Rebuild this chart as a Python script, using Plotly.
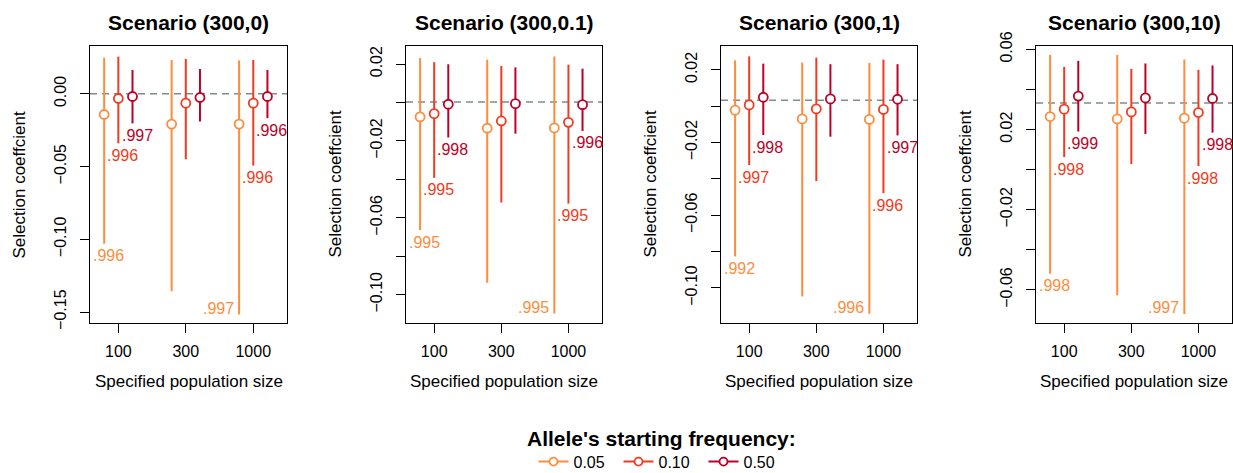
import plotly.graph_objects as go

W, H = 1233, 473
FONT = "Liberation Sans, Arial, sans-serif"

# ---------------- data ----------------
sizes = ["100", "300", "1000"]
freqs = ["0.05", "0.10", "0.50"]
colors = ["#FD8D3C", "#F03B20", "#BD0026"]
titles = ["Scenario (300,0)", "Scenario (300,0.1)", "Scenario (300,1)", "Scenario (300,10)"]
true_s = [0.0, 0.00033, 0.0033, 0.0333]

# estimates [freq][size]
est_p1 = [[-0.0142, -0.0208, -0.0208], [-0.0032, -0.0064, -0.0064], [-0.0018, -0.0025, -0.0018]]
lo_p1 = [[-0.1030, -0.1356, -0.1516], [-0.0340, -0.0450, -0.0493], [-0.0203, -0.0190, -0.0167]]
hi_p1 = [[0.0249, 0.0233, 0.0230], [0.0256, 0.0240, 0.0233], [0.0164, 0.0171, 0.0164]]
cov_p1 = [[".996", None, ".997"], [".996", None, ".996"], [".997", None, ".996"]]

est_p2 = [[-0.0075, -0.0134, -0.0132], [-0.0058, -0.0096, -0.0103], [-0.0009, -0.0006, -0.0011]]
lo_p2 = [[-0.0664, -0.0938, -0.1097], [-0.0392, -0.0520, -0.0526], [-0.0182, -0.0162, -0.0148]]
hi_p2 = [[0.0231, 0.0223, 0.0240], [0.0210, 0.0190, 0.0197], [0.0199, 0.0183, 0.0176]]
cov_p2 = [[".995", None, ".995"], [".995", None, ".995"], [".998", None, ".996"]]

est_p3 = [[-0.0022, -0.0070, -0.0073], [0.0007, -0.0015, -0.0018], [0.0049, 0.0040, 0.0038]]
lo_p3 = [[-0.0827, -0.1047, -0.1142], [-0.0324, -0.0412, -0.0479], [-0.0159, -0.0168, -0.0161]]
hi_p3 = [[0.0252, 0.0240, 0.0238], [0.0274, 0.0267, 0.0256], [0.0234, 0.0231, 0.0231]]
cov_p3 = [[".992", None, ".996"], [".997", None, ".996"], [".998", None, ".997"]]

est_p4 = [[0.0265, 0.0253, 0.0257], [0.0302, 0.0288, 0.0285], [0.0367, 0.0358, 0.0355]]
lo_p4 = [[-0.0519, -0.0627, -0.0720], [0.0063, 0.0028, 0.0018], [0.0190, 0.0178, 0.0185]]
hi_p4 = [[0.0572, 0.0572, 0.0550], [0.0513, 0.0503, 0.0498], [0.0543, 0.0530, 0.0520]]
cov_p4 = [[".998", None, ".997"], [".998", None, ".998"], [".999", None, ".998"]]

y_ranges = [[-0.1575, 0.0329], [-0.1147, 0.0294], [-0.1193, 0.0331], [-0.0765, 0.0617]]
y_tickvals = [
    [-0.15, -0.10, -0.05, 0.00],
    [-0.10, -0.08, -0.06, -0.04, -0.02, 0.00, 0.02],
    [-0.10, -0.08, -0.06, -0.04, -0.02, 0.00, 0.02],
    [-0.06, -0.04, -0.02, 0.00, 0.02, 0.04, 0.06],
]
y_ticktext = [
    ["\u22120.15", "\u22120.10", "\u22120.05", "0.00"],
    ["\u22120.10", "", "\u22120.06", "", "\u22120.02", "", "0.02"],
    ["\u22120.10", "", "\u22120.06", "", "\u22120.02", "", "0.02"],
    ["\u22120.06", "", "\u22120.02", "", "0.02", "", "0.06"],
]

panels = [
    (est_p1, lo_p1, hi_p1, cov_p1),
    (est_p2, lo_p2, hi_p2, cov_p2),
    (est_p3, lo_p3, hi_p3, cov_p3),
    (est_p4, lo_p4, hi_p4, cov_p4),
]

# ---------------- layout geometry ----------------
box_left = [90, 406, 721, 1036]
box_right = [287, 602, 917, 1232]
box_top, box_bottom = 46, 323
x_range = [0.58, 3.5]
offsets = [-0.21, 0.0, 0.21]
cat_pos = [1, 2, 3]

fig = go.Figure()
annotations = []
shapes = []
layout = {}

plot_h = box_bottom - box_top

for p, (est, lo, hi, cov) in enumerate(panels):
    ax = "" if p == 0 else str(p + 1)
    xa, ya = "x" + ax, "y" + ax
    for f in range(3):
        xs = [c + offsets[f] for c in cat_pos]
        fig.add_trace(go.Scatter(
            x=xs, y=est[f], mode="markers", xaxis=xa, yaxis=ya, showlegend=False,
            marker=dict(symbol="circle", size=9, color="white",
                        line=dict(color=colors[f], width=1.8)),
            error_y=dict(type="data", symmetric=False,
                         array=[h - e for h, e in zip(hi[f], est[f])],
                         arrayminus=[e - l for e, l in zip(est[f], lo[f])],
                         width=0, thickness=2, color=colors[f]),
            hoverinfo="skip",
        ))
        ppu = plot_h / (y_ranges[p][1] - y_ranges[p][0])
        for i, txt in enumerate(cov[f]):
            if txt is None:
                continue
            room = (lo[f][i] - y_ranges[p][0]) * ppu
            if room > 25:
                annotations.append(dict(
                    x=xs[i], y=lo[f][i], xref=xa, yref=ya, text=txt, showarrow=False,
                    xanchor="left", yanchor="middle", xshift=-13, yshift=-12,
                    font=dict(family=FONT, size=16, color=colors[f])))
            else:
                annotations.append(dict(
                    x=xs[i], y=lo[f][i], xref=xa, yref=ya, text=txt, showarrow=False,
                    xanchor="right", yanchor="middle", xshift=-3, yshift=6,
                    font=dict(family=FONT, size=16, color=colors[f])))

    dom_x = [box_left[p] / W, box_right[p] / W]
    dom_y = [1 - box_bottom / H, 1 - box_top / H]
    common = dict(showline=True, mirror=True, linecolor="black", linewidth=1,
                  ticks="outside", ticklen=9, tickwidth=1, tickcolor="black",
                  showgrid=False, zeroline=False, automargin=False,
                  tickfont=dict(family=FONT, size=16, color="black"))
    layout["xaxis" + ax] = dict(domain=dom_x, range=x_range, anchor=ya,
                                tickvals=cat_pos, ticktext=sizes, ticklabelstandoff=5, **common)
    layout["yaxis" + ax] = dict(domain=dom_y, range=y_ranges[p], anchor=xa,
                                tickvals=y_tickvals[p], ticktext=y_ticktext[p],
                                tickangle=-90, ticklabelstandoff=8, **common)

    shapes.append(dict(type="line", xref=xa + " domain", yref=ya, x0=0, x1=1,
                       y0=true_s[p], y1=true_s[p], layer="below",
                       line=dict(color="#7f8c8c", width=1.5, dash="7px,5px")))

    cx = (box_left[p] + box_right[p]) / 2 / W
    annotations.append(dict(x=cx, y=1 - 23 / H, xref="paper", yref="paper",
                            text="<b>" + titles[p] + "</b>", showarrow=False,
                            xanchor="center", yanchor="middle",
                            font=dict(family=FONT, size=21, color="black")))
    annotations.append(dict(x=box_left[p] / W, y=1 - (box_top + box_bottom) / 2 / H,
                            xref="paper", yref="paper", xshift=-71,
                            text="Selection coeffcient", textangle=-90, showarrow=False,
                            xanchor="center", yanchor="middle",
                            font=dict(family=FONT, size=17, color="black")))
    annotations.append(dict(x=cx, y=1 - 381 / H, xref="paper", yref="paper",
                            text="Specified population size", showarrow=False,
                            xanchor="center", yanchor="middle",
                            font=dict(family=FONT, size=17, color="black")))

# legend entries
for f in range(3):
    fig.add_trace(go.Scatter(
        x=[None], y=[None], mode="lines+markers", name=freqs[f], xaxis="x", yaxis="y",
        line=dict(color=colors[f], width=2),
        marker=dict(symbol="circle", size=8, color="white", line=dict(color=colors[f], width=1.8)),
    ))

annotations.append(dict(x=661 / W, y=1 - 438 / H, xref="paper", yref="paper",
                        text="<b>Allele's starting frequency:</b>", showarrow=False,
                        xanchor="center", yanchor="middle",
                        font=dict(family=FONT, size=21, color="black")))

fig.update_layout(
    width=W, height=H, autosize=False,
    margin=dict(l=0, r=0, t=0, b=0, autoexpand=False),
    paper_bgcolor="white", plot_bgcolor="white",
    font=dict(family=FONT, size=16, color="black"),
    annotations=annotations, shapes=shapes,
    legend=dict(orientation="h", x=661 / W, xanchor="center", y=1 - 461.7 / H,
                yanchor="middle", font=dict(family=FONT, size=16, color="black"),
                bgcolor="rgba(0,0,0,0)", itemwidth=30,
                entrywidth=40, entrywidthmode="pixels"),
    **layout,
)

fig.write_html("out.html")
